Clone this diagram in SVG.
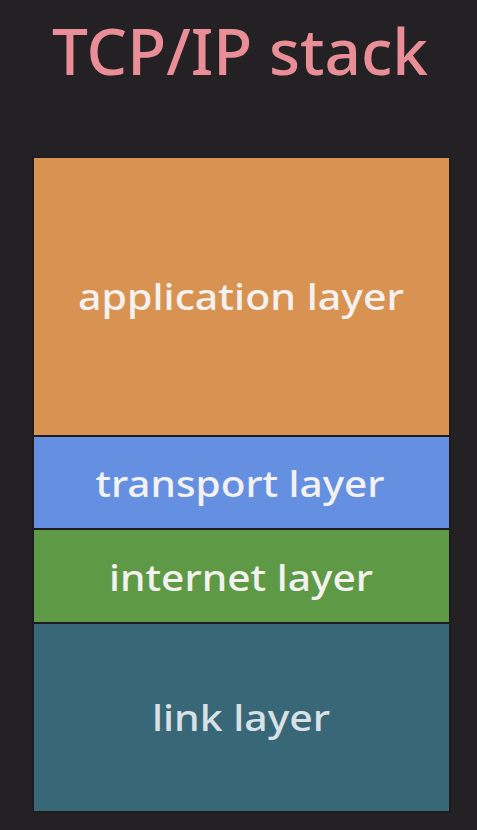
<svg xmlns="http://www.w3.org/2000/svg" width="477" height="830" viewBox="0 0 477 830">
  <style>
    .layer { stroke: #1e1c1f; stroke-width: 2; }
    .label { font-family: "Noto Sans", "Open Sans", sans-serif; font-size: 37px; font-weight: 500; fill: #f4f2f0; text-anchor: middle; }
    .title { font-family: "Noto Sans", "Open Sans", sans-serif; font-size: 64px; font-weight: 500; fill: #e98e96; text-anchor: middle; }
  </style>
  <rect x="0" y="0" width="477" height="830" fill="#232124"/>
  <text class="title" x="240" y="75" textLength="376" lengthAdjust="spacingAndGlyphs">TCP/IP stack</text>
  <g id="application">
    <rect class="layer" x="33" y="157" width="417" height="279" fill="#d89353"/>
    <text class="label" x="241" y="310" textLength="326" lengthAdjust="spacingAndGlyphs">application layer</text>
  </g>
  <g id="transport">
    <rect class="layer" x="33" y="436" width="417" height="93" fill="#6590e2"/>
    <text class="label" x="240" y="497" textLength="289" lengthAdjust="spacingAndGlyphs">transport layer</text>
  </g>
  <g id="internet">
    <rect class="layer" x="33" y="529" width="417" height="94" fill="#5e9945"/>
    <text class="label" x="241" y="591" textLength="264" lengthAdjust="spacingAndGlyphs">internet layer</text>
  </g>
  <g id="link">
    <rect class="layer" x="33" y="623" width="417" height="189" fill="#386878"/>
    <text class="label" x="241" y="731" textLength="178" lengthAdjust="spacingAndGlyphs" style="fill:#d9e1e6">link layer</text>
  </g>
  <g id="connectors"/>
</svg>
